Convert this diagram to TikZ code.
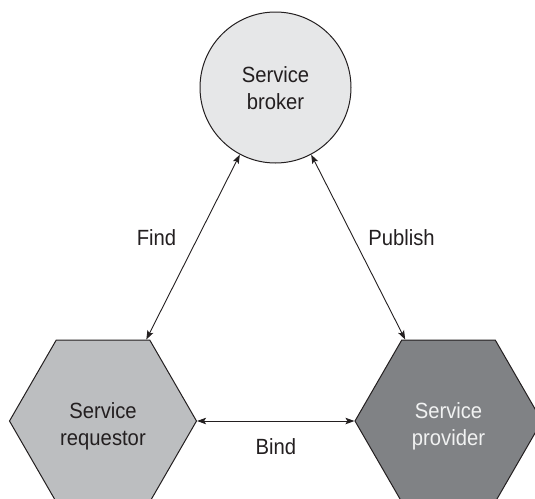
\documentclass[tikz,border=0pt]{standalone}
\usepackage{fontspec}
\newfontfamily\diafont{Liberation Sans}[FakeStretch=0.92]
\usetikzlibrary{shapes.geometric,arrows.meta}
\definecolor{ink}{HTML}{231F20}
\definecolor{brokerfill}{HTML}{E6E7E8}
\definecolor{reqfill}{HTML}{BCBEC0}
\definecolor{provfill}{HTML}{808285}
\definecolor{lighttext}{HTML}{F1F2F2}
\tikzset{
  txt/.style={font=\diafont\fontsize{22}{27}\selectfont, text=ink, align=center, inner sep=0pt},
  brokerbox/.style={circle, draw=ink, line width=1pt, fill=brokerfill, minimum size=151pt, inner sep=0pt},
  hexbox/.style={regular polygon, regular polygon sides=6, draw=ink, line width=1pt, minimum size=187pt, inner sep=0pt},
  link/.style={draw=ink, line width=0.9pt, {Stealth[length=9pt,width=6.5pt,inset=2pt]}-{Stealth[length=9pt,width=6.5pt,inset=2pt]}}
}
\begin{document}
\begin{tikzpicture}[x=1pt,y=-1pt]
\useasboundingbox (0,0) rectangle (535,498);
\clip (0,0) rectangle (535,498);
\node[brokerbox] (broker) at (275.5,87.5) {};
\node[hexbox, fill=reqfill] (req) at (103,421) {};
\node[hexbox, fill=provfill] (prov) at (448.5,421) {};
\node[txt] (brokertxt) at (275.5,88.6) {Service\\broker};
\node[txt] (reqtxt) at (103,425.9) {Service\\requestor};
\node[txt, text=lighttext] (provtxt) at (448.5,425.9) {Service\\provider};
\draw[link] (req.62) -- (broker.242);
\draw[link] (broker.298) -- (prov.118);
\draw[link] (req.east) -- (prov.west);
\node[txt, anchor=base] (find) at (156.5,245) {Find};
\node[txt, anchor=base] (publish) at (401.5,245) {Publish};
\node[txt, anchor=base] (bind) at (276,454) {Bind};
\end{tikzpicture}
\end{document}
